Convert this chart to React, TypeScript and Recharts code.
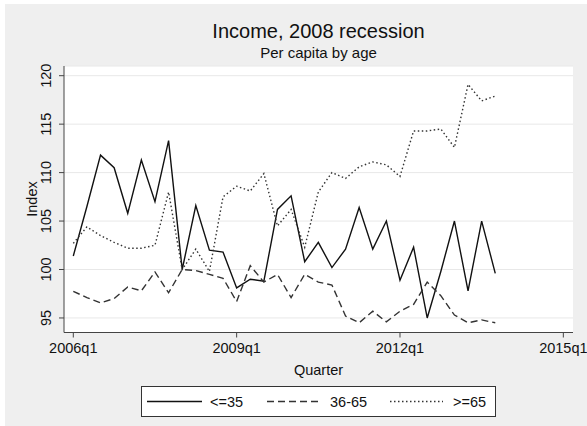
import React from "react";
import { LineChart, Line, XAxis, YAxis, CartesianGrid } from "recharts";

// quarters 2006q1 .. 2013q4
const quarters = [
  "2006q1", "2006q2", "2006q3", "2006q4",
  "2007q1", "2007q2", "2007q3", "2007q4",
  "2008q1", "2008q2", "2008q3", "2008q4",
  "2009q1", "2009q2", "2009q3", "2009q4",
  "2010q1", "2010q2", "2010q3", "2010q4",
  "2011q1", "2011q2", "2011q3", "2011q4",
  "2012q1", "2012q2", "2012q3", "2012q4",
  "2013q1", "2013q2", "2013q3", "2013q4",
];

const young = [
  101.4, 106.5, 111.8, 110.5, 105.8, 111.3, 107.0, 113.3,
  100.0, 106.6, 102.0, 101.8, 98.1, 99.0, 98.8, 106.2,
  107.6, 100.8, 102.8, 100.2, 102.1, 106.4, 102.1, 105.0,
  98.9, 102.3, 95.0, 99.8, 105.0, 97.8, 105.0, 99.6,
];

const middle = [
  97.75, 97.1, 96.55, 97.0, 98.2, 97.8, 99.75, 97.6,
  100.0, 99.9, 99.5, 99.1, 96.7, 100.4, 98.7, 99.5,
  97.1, 99.5, 98.7, 98.4, 95.2, 94.5, 95.7, 94.6,
  95.7, 96.4, 98.7, 97.3, 95.3, 94.5, 94.8, 94.5,
];

const old = [
  102.7, 104.4, 103.5, 102.8, 102.2, 102.2, 102.5, 108.0,
  100.0, 102.1, 99.8, 107.5, 108.6, 108.1, 109.9, 104.5,
  106.2, 102.3, 108.0, 110.0, 109.4, 110.6, 111.1, 110.8,
  109.6, 114.3, 114.3, 114.5, 112.6, 119.1, 117.4, 117.9,
];

const xTicks = [0, 12, 24, 36];
const xTickLabels = ["2006q1", "2009q1", "2012q1", "2015q1"];
const yTicks = [95, 100, 105, 110, 115, 120];

const series = [
  { key: "young", name: "<=35", dash: undefined as string | undefined, color: "#111" },
  { key: "middle", name: "36-65", dash: "7 4", color: "#333" },
  { key: "old", name: ">=65", dash: "1.5 2.5", color: "#333" },
];

const FONT = '"Liberation Sans", Arial, Helvetica, sans-serif';

const rows = quarters.map((q, i) => ({
  t: i,
  q,
  young: young[i],
  middle: middle[i],
  old: old[i],
}));

function YTick(props: any) {
  const { x, y, payload } = props;
  const tx = x - 5.5;
  return (
    <text
      x={tx}
      y={y}
      transform={`rotate(-90 ${tx} ${y})`}
      textAnchor="middle"
      fontSize={14.5}
      fill="#111"
      fontFamily={FONT}
    >
      {payload.value}
    </text>
  );
}

// legend sample spans (x start, text start)
const legendItems = [
  { x0: 147, x1: 202, tx: 210 },
  { x0: 267, x1: 322, tx: 330 },
  { x0: 390, x1: 443, tx: 453 },
];

export default function App() {
  return (
    <div
      style={{
        position: "fixed",
        left: 0,
        top: 0,
        width: 587,
        height: 426,
        background: "#fff",
        fontFamily: FONT,
      }}
    >
      <div
        style={{
          position: "absolute",
          left: 5,
          top: 4,
          width: 582,
          height: 422,
          background: "#efefef",
        }}
      />
      <div style={{ position: "absolute", left: 0, top: 0 }}>
        <LineChart
          width={587}
          height={426}
          data={rows}
          margin={{ top: 66, right: 14, bottom: 63.5, left: 0 }}
        >
          <CartesianGrid
            horizontal
            vertical={false}
            fill="#ffffff"
            stroke="#e8e8e8"
            strokeWidth={1}
          />
          <XAxis
            dataKey="t"
            type="number"
            domain={[-0.683, 36.71]}
            ticks={xTicks}
            interval={0}
            tickFormatter={(v: number) => xTickLabels[xTicks.indexOf(v)] ?? ""}
            height={30}
            tickSize={5}
            tickMargin={5}
            stroke="#444"
            tick={{ fill: "#111", fontSize: 14.5, fontFamily: FONT }}
          />
          <YAxis
            type="number"
            domain={[93.5, 121]}
            ticks={yTicks}
            interval={0}
            width={64}
            tickSize={5}
            tickMargin={2}
            stroke="#444"
            tick={<YTick />}
          />
          {series.map((s) => (
            <Line
              key={s.key}
              dataKey={s.key}
              name={s.name}
              type="linear"
              stroke={s.color}
              strokeWidth={1.4}
              strokeDasharray={s.dash}
              dot={false}
              activeDot={false}
              isAnimationActive={false}
            />
          ))}
        </LineChart>
      </div>
      <svg
        width={587}
        height={426}
        style={{ position: "absolute", left: 0, top: 0, pointerEvents: "none" }}
        fontFamily={FONT}
      >
        <text x={318.5} y={38} textAnchor="middle" fontSize={20} fill="#111">
          Income, 2008 recession
        </text>
        <text x={318.5} y={58} textAnchor="middle" fontSize={15} fill="#111">
          Per capita by age
        </text>
        <text x={318.5} y={375} textAnchor="middle" fontSize={14.5} fill="#111">
          Quarter
        </text>
        <text
          x={36.5}
          y={199}
          transform="rotate(-90 36.5 199)"
          textAnchor="middle"
          fontSize={14.5}
          fill="#111"
        >
          Index
        </text>
        <rect x={141.5} y={386.5} width={354} height={30} fill="#fff" stroke="#333" strokeWidth={1} />
        {series.map((s, i) => (
          <g key={s.key}>
            <line
              x1={legendItems[i].x0}
              x2={legendItems[i].x1}
              y1={401.5}
              y2={401.5}
              stroke={s.color}
              strokeWidth={1.4}
              strokeDasharray={s.dash}
            />
            <text x={legendItems[i].tx} y={406.5} fontSize={14.5} fill="#111">
              {s.name}
            </text>
          </g>
        ))}
      </svg>
    </div>
  );
}
